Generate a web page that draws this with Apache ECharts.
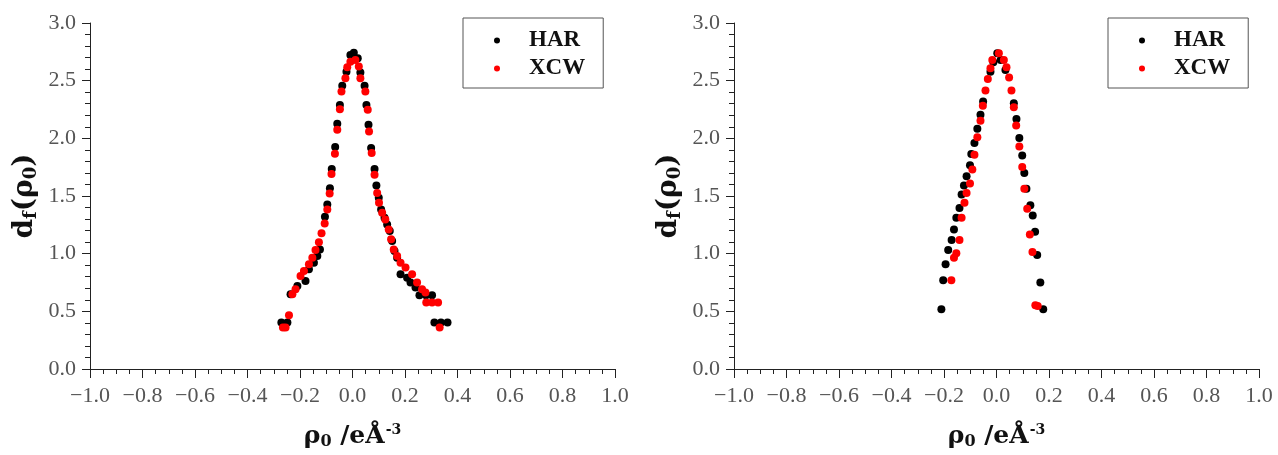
<!DOCTYPE html>
<html><head><meta charset="utf-8">
<script src="https://cdn.jsdelivr.net/npm/echarts@6/dist/echarts.min.js"></script>
<style>html,body{margin:0;padding:0;background:#fff}#c{width:1278px;height:455px}</style>
</head><body><div id="c"></div>
<script>
const seriesNames = ['HAR', 'XCW'];
const xTicks = { min: -1.0, max: 1.0, interval: 0.2 };
const yTicks = { min: 0.0, max: 3.0, interval: 0.5 };

const harLeft = [[-0.271,0.404],[-0.248,0.404],[-0.236,0.648],[-0.210,0.720],[-0.179,0.763],[-0.166,0.864],[-0.147,0.922],[-0.134,0.979],[-0.124,1.037],[-0.105,1.320],[-0.096,1.426],[-0.086,1.567],[-0.079,1.735],[-0.066,1.925],[-0.058,2.126],[-0.048,2.290],[-0.039,2.455],[-0.023,2.578],[-0.008,2.723],[0.005,2.742],[0.020,2.694],[0.030,2.570],[0.046,2.455],[0.053,2.290],[0.061,2.118],[0.071,1.916],[0.084,1.735],[0.091,1.590],[0.100,1.484],[0.109,1.383],[0.122,1.311],[0.132,1.253],[0.142,1.196],[0.151,1.109],[0.160,1.023],[0.170,0.965],[0.183,0.821],[0.208,0.792],[0.221,0.749],[0.240,0.706],[0.255,0.640],[0.280,0.640],[0.303,0.640],[0.312,0.404],[0.337,0.404],[0.362,0.404]];
const xcwLeft = [[-0.265,0.360],[-0.255,0.360],[-0.242,0.467],[-0.229,0.648],[-0.217,0.691],[-0.198,0.807],[-0.185,0.850],[-0.166,0.908],[-0.153,0.965],[-0.141,1.031],[-0.128,1.100],[-0.118,1.176],[-0.106,1.262],[-0.096,1.383],[-0.087,1.521],[-0.080,1.691],[-0.067,1.867],[-0.058,2.074],[-0.048,2.253],[-0.042,2.406],[-0.027,2.521],[-0.020,2.616],[-0.008,2.665],[0.011,2.679],[0.024,2.622],[0.030,2.521],[0.049,2.406],[0.058,2.247],[0.063,2.060],[0.073,1.873],[0.084,1.685],[0.094,1.527],[0.101,1.441],[0.113,1.354],[0.125,1.296],[0.138,1.210],[0.147,1.124],[0.157,1.037],[0.170,0.979],[0.183,0.922],[0.202,0.879],[0.227,0.821],[0.246,0.749],[0.265,0.691],[0.278,0.663],[0.281,0.577],[0.303,0.577],[0.326,0.577],[0.332,0.360]];
const harRight = [[-0.210,0.519],[-0.203,0.769],[-0.194,0.908],[-0.184,1.031],[-0.171,1.118],[-0.162,1.210],[-0.153,1.311],[-0.141,1.397],[-0.133,1.513],[-0.124,1.590],[-0.114,1.671],[-0.101,1.766],[-0.096,1.864],[-0.084,1.959],[-0.073,2.083],[-0.061,2.204],[-0.051,2.319],[-0.023,2.578],[-0.012,2.660],[0.003,2.737],[0.016,2.680],[0.034,2.593],[0.066,2.305],[0.076,2.167],[0.087,2.002],[0.098,1.852],[0.106,1.700],[0.114,1.562],[0.129,1.420],[0.138,1.331],[0.147,1.190],[0.155,0.988],[0.167,0.749],[0.178,0.519]];
const xcwRight = [[-0.172,0.769],[-0.162,0.965],[-0.153,1.003],[-0.141,1.118],[-0.133,1.311],[-0.122,1.441],[-0.114,1.527],[-0.101,1.608],[-0.092,1.729],[-0.084,1.858],[-0.073,2.010],[-0.061,2.152],[-0.052,2.282],[-0.042,2.414],[-0.033,2.515],[-0.023,2.607],[-0.016,2.679],[0.009,2.737],[0.028,2.679],[0.038,2.616],[0.048,2.527],[0.057,2.414],[0.066,2.270],[0.075,2.112],[0.087,1.930],[0.098,1.752],[0.106,1.562],[0.117,1.389],[0.127,1.167],[0.137,1.014],[0.148,0.553],[0.157,0.547]];

const FONT = '"Liberation Serif", "Times New Roman", serif';
const TFONT = '"DejaVu Serif", "Liberation Serif", serif';
const fmt = v => v.toFixed(1).replace('-', '\u2212');

function xAxis(idx) {
  return {
    type: 'value', gridIndex: idx, min: xTicks.min, max: xTicks.max, interval: xTicks.interval,
    splitLine: { show: false },
    axisLine: { onZero: false, lineStyle: { color: '#222', width: 1 } },
    axisTick: { length: 9, lineStyle: { color: '#222' } },
    minorTick: { show: true, splitNumber: 4, length: 5, lineStyle: { color: '#222' } },
    axisLabel: { formatter: fmt, color: '#555', fontFamily: FONT, fontSize: 22, margin: 16 },
    name: '{m|ρ}{s|0}{m| /eÅ}{p|-3}',
    nameLocation: 'middle', nameGap: 52,
    nameTextStyle: {
      rich: {
        m: { fontFamily: TFONT, fontWeight: 'bold', fontSize: 25, color: '#111', lineHeight: 30, verticalAlign: 'middle' },
        s: { fontFamily: TFONT, fontWeight: 'bold', fontSize: 16, color: '#111', verticalAlign: 'bottom', padding: [0, 0, 1, 0] },
        p: { fontFamily: TFONT, fontWeight: 'bold', fontSize: 14, color: '#111', verticalAlign: 'top', padding: [2, 0, 0, 1] }
      }
    }
  };
}
function yAxis(idx) {
  return {
    type: 'value', gridIndex: idx, min: yTicks.min, max: yTicks.max, interval: yTicks.interval,
    splitLine: { show: false },
    axisLine: { show: true, onZero: false, lineStyle: { color: '#222', width: 1 } },
    axisTick: { show: true, length: 8, lineStyle: { color: '#222' } },
    minorTick: { show: true, splitNumber: 5, length: 5, lineStyle: { color: '#222' } },
    axisLabel: { formatter: fmt, color: '#555', fontFamily: FONT, fontSize: 22, margin: 14 },
    name: '{m|d}{s|f}{m|(ρ}{s|0}{m|)}',
    nameLocation: 'middle', nameGap: 49, nameRotate: 90,
    nameTextStyle: {
      rich: {
        m: { fontFamily: TFONT, fontWeight: 'bold', fontSize: 28, color: '#111', lineHeight: 32, verticalAlign: 'middle' },
        s: { fontFamily: TFONT, fontWeight: 'bold', fontSize: 18, color: '#111', verticalAlign: 'bottom', padding: [0, 0, 1, 0] }
      }
    }
  };
}
function legend(left) {
  return {
    left: left, top: 18, orient: 'vertical',
    data: seriesNames,
    icon: 'circle', itemWidth: 6, itemHeight: 6, itemGap: 5,
    padding: [11, 18, 8, 31],
    borderColor: '#555', borderWidth: 1,
    textStyle: { fontFamily: FONT, fontWeight: 'bold', fontSize: 23, color: '#111', padding: [0, 0, 0, 24] }
  };
}
function sc(name, data, color, idx) {
  return { name, type: 'scatter', xAxisIndex: idx, yAxisIndex: idx, data, symbol: 'circle', symbolSize: 8,
    itemStyle: { color, opacity: 1 }, emphasis: { disabled: true } };
}
const chart = echarts.init(document.getElementById('c'), null, { renderer: 'canvas' });
chart.setOption({
  backgroundColor: '#fff',
  animation: false,
  grid: [
    { left: 90, top: 23, width: 525, height: 347 },
    { left: 734, top: 23, width: 525, height: 347 }
  ],
  xAxis: [xAxis(0), xAxis(1)],
  yAxis: [yAxis(0), yAxis(1)],
  legend: [legend(463), legend(1108)],
  series: [
    sc(seriesNames[0], harLeft, '#000', 0),
    sc(seriesNames[1], xcwLeft, '#ff0000', 0),
    sc(seriesNames[0], harRight, '#000', 1),
    sc(seriesNames[1], xcwRight, '#ff0000', 1)
  ]
});
</script></body></html>
